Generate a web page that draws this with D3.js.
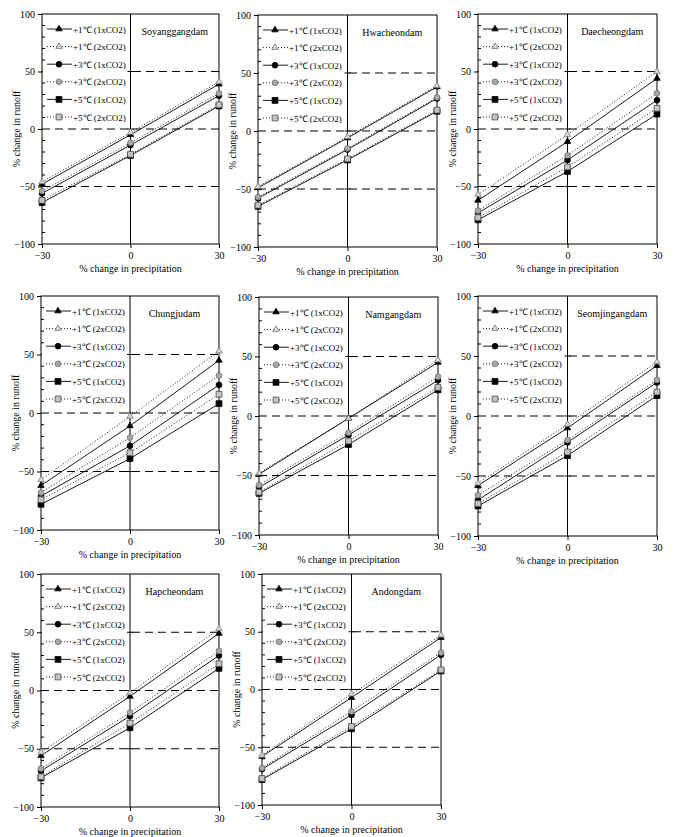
<!DOCTYPE html>
<html>
<head>
<meta charset="utf-8">
<script src="https://cdn.jsdelivr.net/npm/d3@7.9.0/dist/d3.min.js"></script>
<style>
  body { margin: 0; background: #fff; }
  svg { display: block; font-family: "Liberation Serif", "Times New Roman", serif; }
</style>
</head>
<body>
<svg id="chart" width="675" height="837"></svg>
<script>
// precipitation change (x) and runoff axis ticks
const xValues = [-30, 0, 30];
const yTicks = [-100, -50, 0, 50, 100];
const refLines = [-50, 0, 50];

const seriesLabels = [
  "+1\u2103 (1xCO2)", "+1\u2103  (2xCO2)",
  "+3\u2103 (1xCO2)", "+3\u2103  (2xCO2)",
  "+5\u2103 (1xCO2)", "+5\u2103  (2xCO2)"
];

const damNames = ["Soyanggangdam", "Hwacheondam", "Daecheongdam", "Chungjudam",
                  "Namgangdam", "Seomjingangdam", "Hapcheondam", "Andongdam"];

// % change in runoff at -30, 0, +30 % precipitation, one row per series
const soyanggang = [[-48, -5, 39], [-46, -3, 41], [-56, -14, 29], [-54, -12, 31], [-64, -23, 20], [-62, -22, 21]];
const hwacheon   = [[-49, -6, 38], [-48, -5, 39], [-58, -16, 28], [-57, -15, 29], [-65, -25, 17], [-64, -24, 18]];
const daecheong  = [[-62, -11, 44], [-57, -5, 50], [-73, -27, 25], [-71, -23, 31], [-79, -37, 13], [-77, -33, 18]];
const chungju    = [[-62, -11, 45], [-57, -3, 53], [-71, -28, 24], [-68, -21, 32], [-78, -39, 8], [-74, -34, 16]];
const namgang    = [[-49, -2, 45], [-48, -2, 47], [-60, -16, 30], [-58, -14, 33], [-65, -24, 22], [-64, -21, 24]];
const seomjingang= [[-58, -10, 42], [-56, -7, 45], [-70, -22, 28], [-66, -20, 30], [-75, -33, 17], [-73, -30, 20]];
const hapcheon   = [[-56, -5, 49], [-53, -2, 53], [-69, -22, 30], [-67, -19, 34], [-75, -32, 19], [-74, -28, 23]];
const andong     = [[-58, -7, 45], [-57, -4, 47], [-69, -22, 30], [-68, -19, 32], [-78, -34, 16], [-77, -32, 17]];

const damData = [soyanggang, hwacheon, daecheong, chungju, namgang, seomjingang, hapcheon, andong];

// plot-area boxes for each panel [left, top, right, bottom]
const boxes = [
  [42, 14, 219, 244], [258, 15, 437, 247], [478, 14, 657, 244],
  [41, 296, 219, 530], [259, 297, 438, 535], [478, 296, 657, 536],
  [41, 574, 219, 807], [262, 574, 441, 805]
];

const symbols = [d3.symbolTriangle, d3.symbolTriangle, d3.symbolCircle, d3.symbolCircle, d3.symbolSquare, d3.symbolSquare];
const symSize = [18, 18, 26, 26, 34, 34];
const fills = ["#000", "#d8d8d8", "#000", "#a8a8a8", "#000", "#c4c4c4"];
const strokes = ["#000", "#7a7a7a", "#000", "#707070", "#000", "#4a4a4a"];

const svg = d3.select("#chart");

damData.forEach((series, p) => {
  const [x0, y0, x1, y1] = boxes[p];
  const x = d3.scaleLinear().domain([-30, 30]).range([x0, x1]);
  const y = d3.scaleLinear().domain([-100, 100]).range([y1, y0]);
  const g = svg.append("g");

  // dashed reference lines
  g.selectAll(".ref").data(refLines).join("line")
    .attr("x1", x0).attr("x2", x1)
    .attr("y1", d => y(d)).attr("y2", d => y(d))
    .attr("stroke", "#000").attr("stroke-width", 1.1)
    .attr("stroke-dasharray", "8,5");

  // legend background hides reference lines behind it
  g.append("rect")
    .attr("x", x0 + 1).attr("y", y0 + 1)
    .attr("width", x(0) - x0 - 2).attr("height", 112)
    .attr("fill", "#fff");

  // frame
  g.append("rect")
    .attr("x", x0).attr("y", y0)
    .attr("width", x1 - x0).attr("height", y1 - y0)
    .attr("fill", "none").attr("stroke", "#000").attr("stroke-width", 1);

  // vertical line at 0 with small cross ticks
  g.append("line")
    .attr("x1", x(0)).attr("x2", x(0)).attr("y1", y0).attr("y2", y1)
    .attr("stroke", "#000").attr("stroke-width", 1);
  g.selectAll(".ct").data([-50, 0, 50]).join("line")
    .attr("x1", x(0) - 3).attr("x2", x(0) + 3)
    .attr("y1", d => y(d)).attr("y2", d => y(d))
    .attr("stroke", "#000");

  // y axis: major ticks outside, minor inside
  const yAxis = g.append("g").attr("transform", `translate(${x0},0)`)
    .call(d3.axisLeft(y).tickValues(yTicks).tickSize(4).tickPadding(3));
  yAxis.select(".domain").remove();
  yAxis.selectAll("text").attr("font-size", 10).attr("font-family", "Liberation Serif");
  g.selectAll(".minor").data(d3.range(-90, 100, 10).filter(v => v % 50 !== 0)).join("line")
    .attr("x1", x0).attr("x2", x0 + 3)
    .attr("y1", d => y(d)).attr("y2", d => y(d))
    .attr("stroke", "#000");

  // x axis
  const xAxis = g.append("g").attr("transform", `translate(0,${y1})`)
    .call(d3.axisBottom(x).tickValues(xValues).tickSize(4).tickPadding(4));
  xAxis.select(".domain").remove();
  xAxis.selectAll("text").attr("font-size", 10).attr("font-family", "Liberation Serif");

  // axis titles
  g.append("text")
    .attr("transform", `translate(${x0 - 22},${(y0 + y1) / 2}) rotate(-90)`)
    .attr("text-anchor", "middle").attr("font-size", 10)
    .text("% change in runoff");
  g.append("text")
    .attr("x", (x0 + x1) / 2).attr("y", y1 + 28)
    .attr("text-anchor", "middle").attr("font-size", 10)
    .text("% change in precipitation");

  // dam name
  g.append("text")
    .attr("x", x(15)).attr("y", y0 + 21)
    .attr("text-anchor", "middle").attr("font-size", 10)
    .text(damNames[p]);

  // series lines and markers
  const line = d3.line().x((d, i) => x(xValues[i])).y(d => y(d));
  series.forEach((vals, s) => {
    g.append("path")
      .attr("d", line(vals))
      .attr("fill", "none").attr("stroke", "#000").attr("stroke-width", 0.9)
      .attr("stroke-dasharray", s % 2 ? "1,2" : null);
  });
  series.forEach((vals, s) => {
    g.selectAll(null).data(vals).join("path")
      .attr("transform", (d, i) => `translate(${x(xValues[i])},${y(d)})`)
      .attr("d", d3.symbol(symbols[s], symSize[s]))
      .attr("fill", fills[s]).attr("stroke", strokes[s]).attr("stroke-width", 0.8);
  });

  // legend
  seriesLabels.forEach((lab, s) => {
    const ly = y0 + 15 + s * 17.6;
    const lx = x0 + 5;
    g.append("line")
      .attr("x1", lx).attr("x2", lx + 25).attr("y1", ly).attr("y2", ly)
      .attr("stroke", "#000").attr("stroke-width", 0.9)
      .attr("stroke-dasharray", s % 2 ? "1,2" : null);
    g.append("path")
      .attr("transform", `translate(${lx + 12},${ly})`)
      .attr("d", d3.symbol(symbols[s], symSize[s]))
      .attr("fill", fills[s]).attr("stroke", strokes[s]).attr("stroke-width", 0.8);
    g.append("text")
      .attr("x", lx + 26).attr("y", ly + 3.5)
      .attr("font-size", 9)
      .text(lab);
  });
});
</script>
</body>
</html>
